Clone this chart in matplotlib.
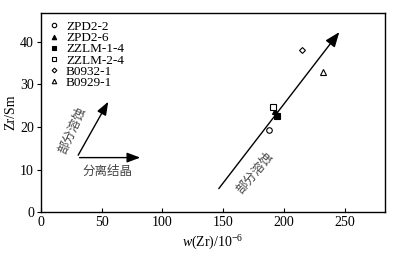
import matplotlib
matplotlib.use('Agg')
import matplotlib.pyplot as plt

plt.rcParams['font.family'] = ['Liberation Serif', 'Noto Sans CJK SC']
plt.rcParams['mathtext.fontset'] = 'custom'
plt.rcParams['mathtext.rm'] = 'Liberation Serif'
plt.rcParams['mathtext.it'] = 'Liberation Serif:italic'

samples = ['ZPD2-2', 'ZPD2-6', 'ZZLM-1-4', 'ZZLM-2-4', 'B0932-1', 'B0929-1']
zr = [188, 193, 194, 191, 215, 232]
zr_sm = [19.2, 23.8, 22.5, 24.6, 38.0, 33.0]
markers = ['o', '^', 's', 's', 'D', '^']
filled = [False, True, True, False, False, False]
sizes = [4, 4, 4, 4, 3, 4]

fig = plt.figure(figsize=(3.96, 2.58), dpi=100)
ax = fig.add_axes([0.1035, 0.178, 0.868, 0.772])

for name, x, y, m, f, s in zip(samples, zr, zr_sm, markers, filled, sizes):
    ax.plot(x, y, linestyle='none', marker=m, markersize=s,
            markerfacecolor='black' if f else 'white',
            markeredgecolor='black', markeredgewidth=0.8, label=name)

# big trend arrow
ax.annotate('', xy=(247, 42.8), xytext=(145, 5.0),
            arrowprops=dict(arrowstyle='-|>,head_length=0.9,head_width=0.35',
                            color='black', lw=1.0))
ax.text(176, 9.3, '部分溶蚀', rotation=50, fontsize=9, ha='center', va='center',
        family=['Noto Sans CJK SC'], color='#444444')

# small key arrows
ax.annotate('', xy=(84, 12.8), xytext=(29.5, 12.8),
            arrowprops=dict(arrowstyle='-|>,head_length=0.8,head_width=0.3',
                            color='black', lw=1.0))
ax.annotate('', xy=(56.5, 26.5), xytext=(29.5, 12.8),
            arrowprops=dict(arrowstyle='-|>,head_length=0.8,head_width=0.3',
                            color='black', lw=1.0))
ax.text(55, 9.6, '分离结晶', fontsize=9, ha='center', va='center',
        family=['Noto Sans CJK SC'], color='#444444')
ax.text(25.5, 19.2, '部分溶蚀', rotation=66, fontsize=9, ha='center', va='center',
        family=['Noto Sans CJK SC'], color='#444444')

ax.set_xlim(0, 283)
ax.set_ylim(0, 46.8)
ax.set_xticks([0, 50, 100, 150, 200, 250])
ax.set_yticks([0, 10, 20, 30, 40])
ax.tick_params(axis='x', direction='in', length=3, labelsize=10, pad=3)
ax.tick_params(axis='y', direction='out', length=3, labelsize=10, pad=2)
ax.set_xlabel(r'$\mathit{w}$(Zr)/10$^{-6}$', fontsize=10, labelpad=3)
ax.set_ylabel('Zr/Sm', fontsize=10, labelpad=2)
for sp in ax.spines.values():
    sp.set_linewidth(1.0)

ax.legend(loc='upper left', frameon=False, fontsize=9.5, handlelength=0.8,
          handletextpad=0.5, labelspacing=-0.08, borderaxespad=0.3,
          borderpad=0.3, numpoints=1, markerscale=0.8)

fig.savefig('out.png', dpi=100)
